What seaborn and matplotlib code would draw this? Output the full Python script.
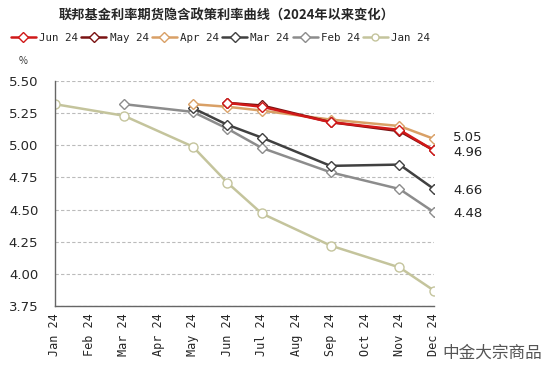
import matplotlib
matplotlib.use("Agg")
import matplotlib.pyplot as plt
import pandas as pd
import seaborn as sns
from matplotlib.lines import Line2D

months = ["Jan 24", "Feb 24", "Mar 24", "Apr 24", "May 24", "Jun 24",
          "Jul 24", "Aug 24", "Sep 24", "Oct 24", "Nov 24", "Dec 24"]
meetings = ["Jan 24", "Mar 24", "May 24", "Jun 24", "Jul 24", "Sep 24", "Nov 24", "Dec 24"]

# implied policy rate per curve (None = not priced yet)
jan24 = [5.32, 5.23, 4.99, 4.71, 4.47, 4.22, 4.05, 3.87]
feb24 = [None, 5.32, 5.26, 5.13, 4.98, 4.79, 4.66, 4.48]
mar24 = [None, None, 5.29, 5.16, 5.06, 4.84, 4.85, 4.66]
apr24 = [None, None, 5.32, 5.30, 5.27, 5.20, 5.15, 5.05]
may24 = [None, None, None, 5.33, 5.31, 5.18, 5.11, 4.96]
jun24 = [None, None, None, 5.33, 5.30, 5.18, 5.12, 4.96]

series = ["Jun 24", "May 24", "Apr 24", "Mar 24", "Feb 24", "Jan 24"]
values = [jun24, may24, apr24, mar24, feb24, jan24]
colors = ["#D01818", "#7A1212", "#D9A066", "#404040", "#8C8C8C", "#C4C49C"]
markers = ["D", "D", "D", "D", "D", "o"]
end_labels = {"Apr 24": "5.05", "May 24": "4.96", "Mar 24": "4.66", "Feb 24": "4.48"}
end_offsets = {"Apr 24": 0.012, "May 24": -0.018, "Mar 24": -0.01, "Feb 24": -0.01}

rows = []
for s, vals in zip(series, values):
    for m, v in zip(meetings, vals):
        if v is not None:
            rows.append({"curve": s, "month": months.index(m), "rate": v})
df = pd.DataFrame(rows)

sns.set_style("white")
plt.rcParams["font.family"] = ["Noto Sans CJK SC", "DejaVu Sans"]

fig = plt.figure(figsize=(5.5, 3.7), dpi=100)
ax = fig.add_axes([0.1, 0.173, 0.689, 0.608])

for i in range(len(series) - 1, -1, -1):
    s = series[i]
    d = df[df["curve"] == s]
    ms = 5 if markers[i] == "D" else 6.5
    sns.lineplot(data=d, x="month", y="rate", ax=ax, color=colors[i], lw=1.8,
                 marker=markers[i], markersize=ms, markerfacecolor="white",
                 markeredgecolor=colors[i], markeredgewidth=1.0)

for s, lab in end_labels.items():
    v = values[series.index(s)][-1]
    ax.text(11.55, v + end_offsets[s], lab, fontsize=9.5, va="center",
            family="DejaVu Sans", color="#222222", clip_on=False)

ax.set_xlim(0, 11)
ax.set_ylim(3.75, 5.5)
ax.set_yticks([3.75, 4.0, 4.25, 4.5, 4.75, 5.0, 5.25, 5.5])
ax.set_yticklabels(["%.2f" % t for t in ax.get_yticks()], family="DejaVu Sans", fontsize=9.5)
ax.set_xticks(range(12))
ax.set_xticklabels(months, rotation=90, family="DejaVu Sans Mono", fontsize=8.5)
ax.set_xlabel("")
ax.set_ylabel("")
ax.yaxis.grid(True, ls=(0, (3, 2)), color="#BBBBBB", lw=0.8)
ax.tick_params(axis="x", direction="out", length=3, color="#555555", pad=2)
ax.tick_params(axis="y", length=0, pad=12)
for sp in ["top", "right"]:
    ax.spines[sp].set_visible(False)
for sp in ["left", "bottom"]:
    ax.spines[sp].set_color("#666666")
    ax.spines[sp].set_linewidth(1.0)

fig.text(0.033, 0.828, "%", fontsize=7, color="#333333")
fig.text(0.412, 0.958, "联邦基金利率期货隐含政策利率曲线（2024年以来变化）",
         ha="center", va="center", fontsize=9.5, fontweight="bold")

handles = [Line2D([], [], color=c, lw=1.8, marker=m, markersize=5,
                  markerfacecolor="white", markeredgecolor=c)
           for c, m in zip(colors, markers)]
fig.legend(handles, series, loc="center left", bbox_to_anchor=(0.012, 0.897), ncol=6,
           frameon=False, handlelength=2.3, handletextpad=0.3, columnspacing=0.3,
           borderaxespad=0, prop={"family": "DejaVu Sans Mono", "size": 7.8})

fig.text(0.985, 0.045, "中金大宗商品", ha="right", va="center", fontsize=12, color="#555555")

fig.savefig("out.png", dpi=100)
